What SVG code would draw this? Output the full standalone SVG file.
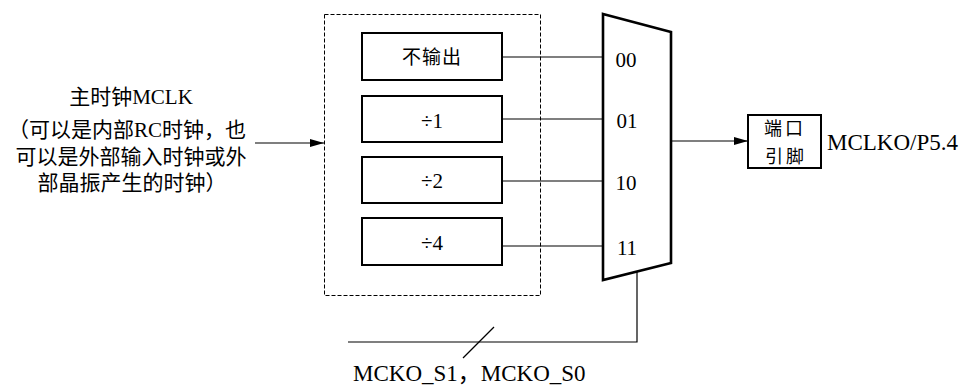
<svg xmlns="http://www.w3.org/2000/svg" width="961" height="385" viewBox="0 0 961 385">
<style>
text{font-family:"Liberation Serif","Noto Sans CJK SC",serif;fill:#000}
.cn{font-family:"Noto Sans CJK SC","Liberation Serif",sans-serif}
.box{fill:#fff;stroke:#000;stroke-width:2}
.ln{fill:none;stroke:#000;stroke-width:1.2}
.lab{font-size:21px;text-anchor:middle}
</style>
<defs>
<marker id="ah" viewBox="0 0 14 8" refX="14" refY="4" markerWidth="14" markerHeight="8" markerUnits="userSpaceOnUse" orient="auto">
<path d="M0,0 L14,4 L0,8 Z" fill="#000"/>
</marker>
</defs>
<g id="source">
<text class="lab" x="131" y="104">主时钟MCLK</text>
<text class="lab" x="127" y="137">（可以是内部RC时钟，也</text>
<text class="lab" x="131" y="164">可以是外部输入时钟或外</text>
<text class="lab" x="132" y="190">部晶振产生的时钟）</text>
</g>
<g id="divider-group">
<rect x="324.5" y="14.5" width="216" height="281" fill="none" stroke="#000" stroke-width="1" stroke-dasharray="4,2"/>
</g>
<g id="box-none">
<rect class="box" x="362" y="33" width="140" height="47"/>
<text class="cn" x="432" y="64" font-size="19" text-anchor="middle" letter-spacing="1">不输出</text>
</g>
<g id="box-div1">
<rect class="box" x="362" y="96" width="140" height="46"/>
<text x="432" y="128" font-size="21" text-anchor="middle">÷1</text>
</g>
<g id="box-div2">
<rect class="box" x="362" y="157" width="140" height="46"/>
<text x="432" y="188" font-size="21" text-anchor="middle">÷2</text>
</g>
<g id="box-div4">
<rect class="box" x="362" y="218" width="140" height="47"/>
<text x="432" y="250" font-size="21" text-anchor="middle">÷4</text>
</g>
<g id="mux">
<path d="M603,14 L671,32 L671,263 L603,280 Z" fill="#fff" stroke="#000" stroke-width="2.6" stroke-linejoin="miter"/>
<text x="626" y="67" font-size="21" text-anchor="middle">00</text>
<text x="627" y="128" font-size="21" text-anchor="middle">01</text>
<text x="626" y="190" font-size="21" text-anchor="middle">10</text>
<text x="627" y="255" font-size="21" text-anchor="middle">11</text>
</g>
<g id="port">
<rect class="box" x="748" y="115" width="73" height="53"/>
<text class="cn" x="785" y="135" font-size="18" text-anchor="middle" letter-spacing="3">端口</text>
<text class="cn" x="786" y="163" font-size="18" text-anchor="middle" letter-spacing="3">引脚</text>
<text x="827" y="150" font-size="23">MCLKO/P5.4</text>
</g>
<g id="select-label">
<text x="353" y="381" font-size="23">MCKO_S1，MCKO_S0</text>
</g>
<g id="connectors">
<line class="ln" x1="255" y1="143" x2="324" y2="143" marker-end="url(#ah)"/>
<line class="ln" x1="502" y1="57" x2="603" y2="57"/>
<line class="ln" x1="502" y1="119" x2="603" y2="119"/>
<line class="ln" x1="502" y1="181" x2="603" y2="181"/>
<line class="ln" x1="502" y1="246" x2="603" y2="246"/>
<line class="ln" x1="671" y1="141" x2="748" y2="141" marker-end="url(#ah)"/>
<polyline class="ln" points="637,271.5 637,342 348,342"/>
<line class="ln" x1="463" y1="358" x2="494" y2="327"/>
</g>
</svg>
